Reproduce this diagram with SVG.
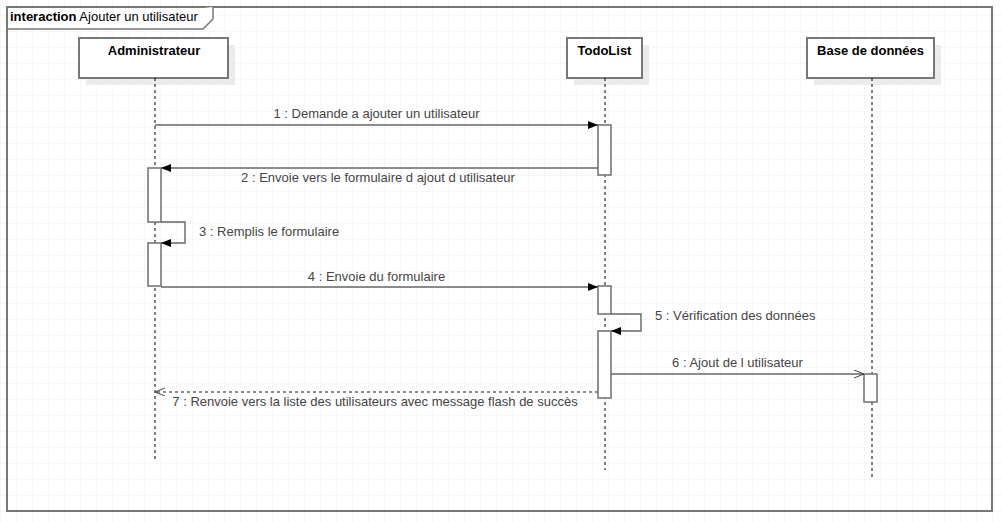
<svg xmlns="http://www.w3.org/2000/svg" width="1002" height="522" viewBox="0 0 1002 522">
<style>
text{font-family:"Liberation Sans",Arial,sans-serif;font-size:13px}
.hdr{font-weight:bold;fill:#000;text-anchor:middle}
.lbl{fill:#444}
.mid{text-anchor:middle}
.box{fill:#fff;stroke:#777;stroke-width:2}
.shadow{fill:#ebebeb}
.life{stroke:#000;stroke-width:1;stroke-dasharray:3,3;fill:none}
.act{fill:#fff;stroke:#777;stroke-width:1.6}
.msg{stroke:#666;stroke-width:1.4;fill:none}
.ret{stroke:#666;stroke-width:1.4;fill:none;stroke-dasharray:3,3}
</style>
<defs>
<pattern id="grid" width="16" height="16" patternUnits="userSpaceOnUse" x="0" y="-1">
<path d="M0 0H16M0 0V16" stroke="#efefef" stroke-width="1" fill="none"/>
</pattern>
<marker id="fill" markerWidth="12" markerHeight="10" refX="10" refY="4" orient="auto" markerUnits="userSpaceOnUse">
<path d="M0 0L10 4L0 8Z" fill="#000"/>
</marker>
<marker id="open" markerWidth="12" markerHeight="10" refX="10" refY="4" orient="auto" markerUnits="userSpaceOnUse">
<path d="M0 0L10 4L0 8" fill="none" stroke="#444" stroke-width="1"/>
</marker>
</defs>
<rect width="1002" height="522" fill="#fff"/>
<rect width="1002" height="522" fill="url(#grid)"/>
<g id="frame">
<rect x="7" y="7" width="985" height="504" fill="none" stroke="#777" stroke-width="2"/>
<path d="M7 29H203L213 19V7" fill="#fff" stroke="#777" stroke-width="1.5"/>
<text x="10" y="21" fill="#000"><tspan font-weight="bold">interaction</tspan> Ajouter un utilisateur</text>
</g>
<g id="admin">
<rect class="shadow" x="86" y="45" width="149" height="40"/>
<rect class="box" x="79" y="38" width="149" height="40"/>
<text class="hdr" x="154" y="55">Administrateur</text>
<line class="life" x1="155" y1="78" x2="155" y2="460"/>
<rect class="act" x="148" y="168" width="13" height="54"/>
<rect class="act" x="148" y="243" width="13" height="43"/>
</g>
<g id="todolist">
<rect class="shadow" x="574" y="45" width="75" height="40"/>
<rect class="box" x="567" y="38" width="75" height="40"/>
<text class="hdr" x="604.5" y="55">TodoList</text>
<line class="life" x1="605" y1="78" x2="605" y2="470"/>
<rect class="act" x="598" y="125" width="13" height="50"/>
<rect class="act" x="598" y="286" width="13" height="28"/>
<rect class="act" x="598" y="331" width="13" height="67"/>
</g>
<g id="bdd">
<rect class="shadow" x="814" y="45" width="127" height="40"/>
<rect class="box" x="807" y="38" width="127" height="40"/>
<text class="hdr" x="870.5" y="55">Base de données</text>
<line class="life" x1="872" y1="78" x2="872" y2="478"/>
<rect class="act" x="864" y="374" width="13" height="28"/>
</g>
<g id="connectors">
<line class="msg" x1="155" y1="125" x2="598" y2="125" marker-end="url(#fill)"/>
<text class="lbl mid" x="376.5" y="118">1 : Demande a ajouter un utilisateur</text>
<line class="msg" x1="598" y1="168" x2="161" y2="168" marker-end="url(#fill)"/>
<text class="lbl mid" x="378" y="182">2 : Envoie vers le formulaire d ajout d utilisateur</text>
<path class="msg" d="M161 222H185V243H161" marker-end="url(#fill)"/>
<text class="lbl" x="199" y="236">3 : Remplis le formulaire</text>
<line class="msg" x1="161" y1="287" x2="598" y2="287" marker-end="url(#fill)"/>
<text class="lbl mid" x="376.5" y="281">4 : Envoie du formulaire</text>
<path class="msg" d="M611 314H641V331H611" marker-end="url(#fill)"/>
<text class="lbl" x="655" y="320">5 : Vérification des données</text>
<line class="msg" x1="611" y1="374" x2="864" y2="374" marker-end="url(#open)"/>
<text class="lbl mid" x="737.5" y="367">6 : Ajout de l utilisateur</text>
<line class="ret" x1="598" y1="392" x2="155" y2="392" marker-end="url(#open)"/>
<text class="lbl mid" x="375" y="406">7 : Renvoie vers la liste des utilisateurs avec message flash de succès</text>
</g>
</svg>
